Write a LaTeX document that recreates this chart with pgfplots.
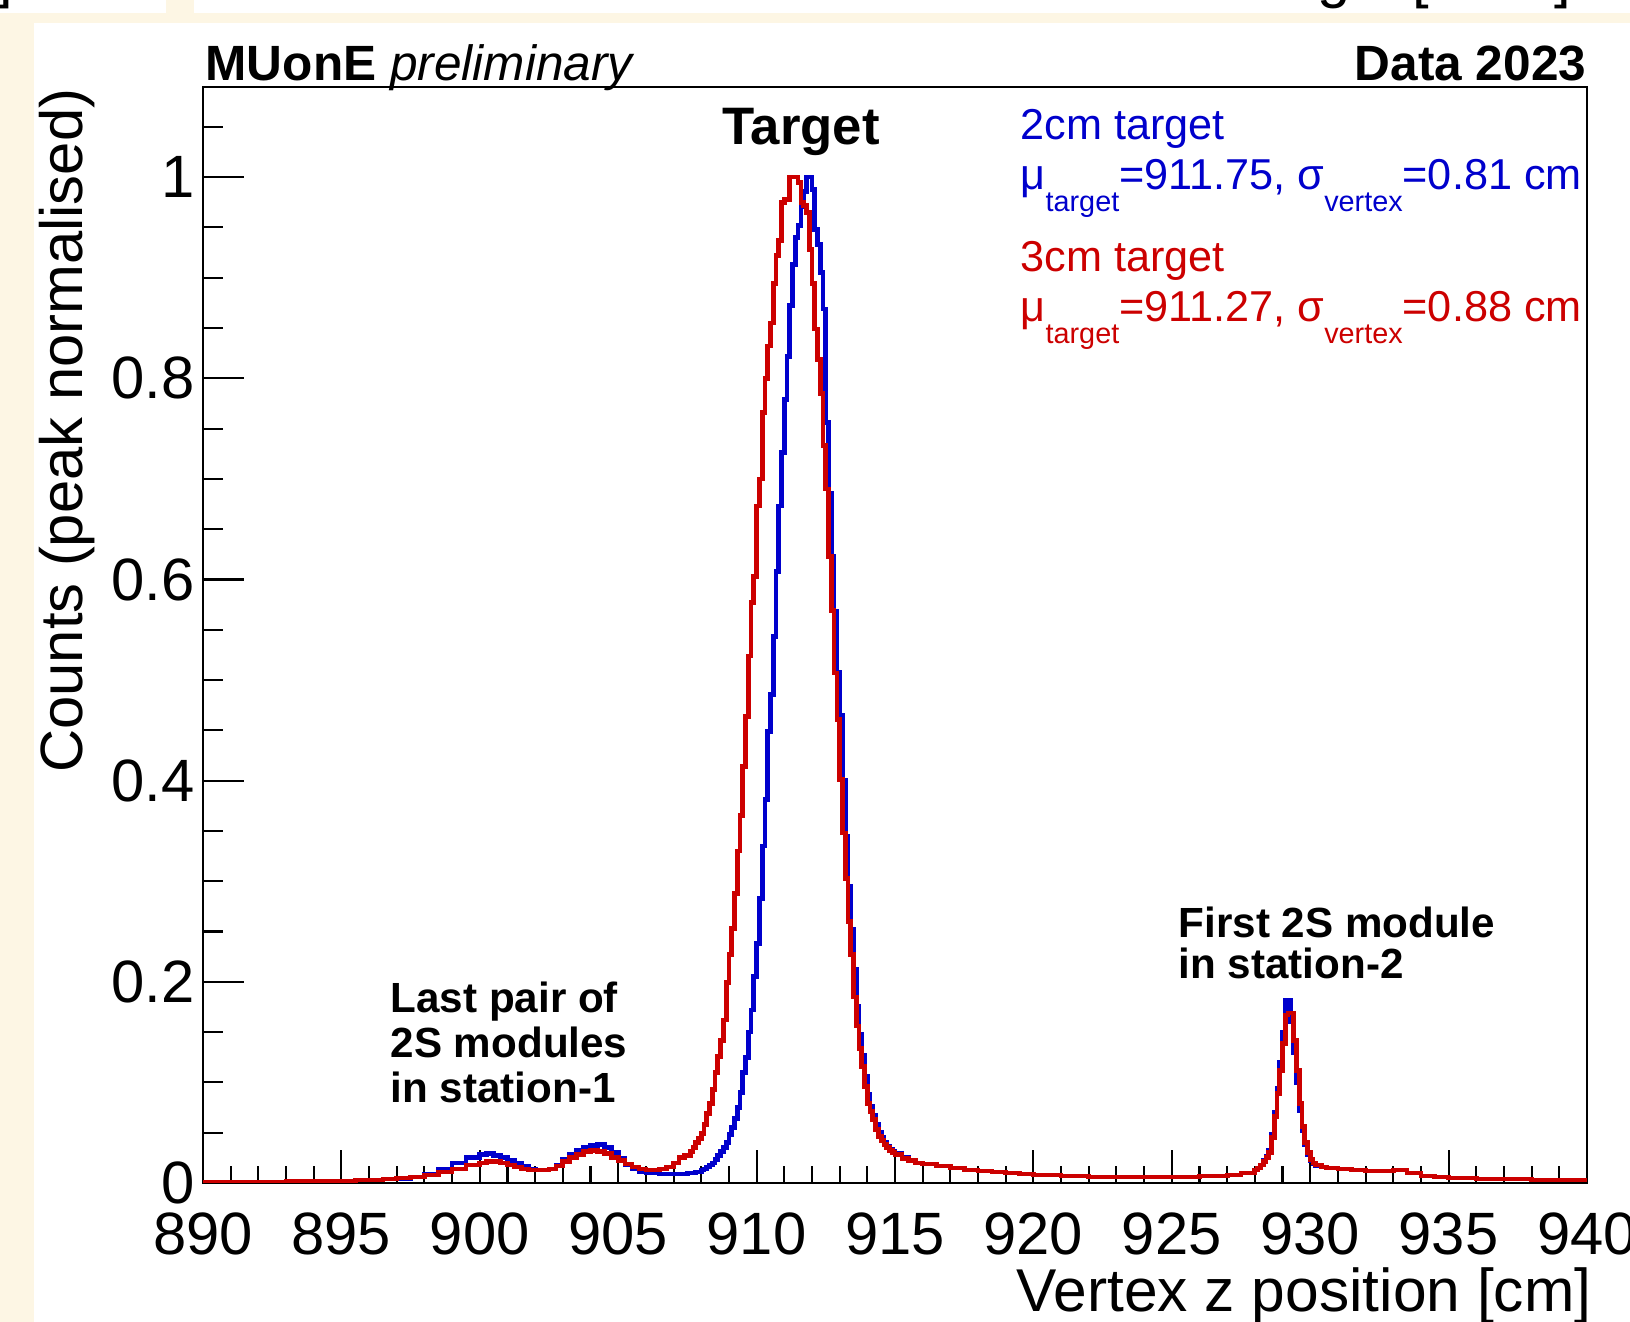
\documentclass[border=0pt]{standalone}
\usepackage{fontspec}
\setmainfont{Liberation Sans}
\usepackage{pgfplots}
\pgfplotsset{compat=1.18}
\usepackage{pgfplotstable}
\definecolor{rootblue}{RGB}{0,0,204}
\definecolor{rootred}{RGB}{204,0,0}
\definecolor{cream}{RGB}{253,246,228}
\newcommand\fs[1]{\fontsize{#1}{#1}\selectfont}

\pgfplotstableread{
x y
890.0 0.001
892.0 0.001
893.0 0.0015
894.0 0.002
895.0 0.002
895.5 0.003
896.0 0.003
896.5 0.004
897.0 0.004
897.5 0.006
898.0 0.009
898.5 0.014
899.0 0.020
899.5 0.025
900.0 0.028
900.25 0.029
900.5 0.027
900.75 0.025
901.0 0.022
901.25 0.020
901.5 0.017
901.75 0.014
902.0 0.013
902.25 0.013
902.5 0.014
902.75 0.018
903.0 0.023
903.25 0.028
903.5 0.032
903.75 0.035
904.0 0.037
904.25 0.038
904.5 0.035
904.75 0.030
905.0 0.024
905.25 0.018
905.5 0.014
905.75 0.011
906.0 0.010
906.5 0.009
907.0 0.009
907.5 0.010
907.8 0.011
908.0 0.013
908.1 0.014
908.2 0.016
908.3 0.018
908.4 0.020
908.5 0.023
908.6 0.027
908.7 0.031
908.8 0.035
908.9 0.040
909.0 0.048
909.1 0.055
909.2 0.064
909.3 0.075
909.4 0.090
909.5 0.110
909.6 0.125
909.7 0.150
909.8 0.172
909.9 0.205
910.0 0.238
910.1 0.283
910.2 0.335
910.3 0.381
910.4 0.449
910.5 0.486
910.6 0.543
910.7 0.608
910.8 0.673
910.9 0.726
911.0 0.779
911.1 0.822
911.2 0.872
911.3 0.913
911.4 0.940
911.5 0.952
911.6 0.971
911.7 0.986
911.8 1.000
911.9 1.000
912.0 0.988
912.1 0.948
912.2 0.933
912.3 0.905
912.4 0.869
912.5 0.756
912.6 0.686
912.7 0.623
912.8 0.568
912.9 0.508
913.0 0.465
913.1 0.400
913.2 0.345
913.3 0.295
913.4 0.252
913.5 0.212
913.6 0.176
913.7 0.148
913.8 0.127
913.9 0.106
914.0 0.088
914.1 0.076
914.2 0.067
914.3 0.058
914.4 0.050
914.5 0.045
914.6 0.040
914.7 0.036
914.8 0.033
914.9 0.031
915.0 0.029
915.25 0.025
915.5 0.022
915.75 0.020
916.0 0.019
916.5 0.017
917.0 0.015
917.5 0.013
918.0 0.012
918.5 0.011
919.0 0.010
919.5 0.009
920.0 0.008
921.0 0.007
922.0 0.006
923.0 0.006
924.0 0.006
925.0 0.006
926.0 0.007
926.5 0.007
927.0 0.008
927.5 0.010
928.0 0.013
928.1 0.015
928.2 0.018
928.3 0.022
928.4 0.026
928.5 0.032
928.6 0.048
928.7 0.070
928.8 0.094
928.9 0.120
929.0 0.150
929.1 0.182
929.2 0.182
929.3 0.160
929.4 0.130
929.5 0.100
929.6 0.072
929.7 0.052
929.8 0.038
929.9 0.028
930.0 0.022
930.1 0.019
930.2 0.017
930.4 0.016
930.6 0.015
931.0 0.014
931.5 0.013
932.0 0.012
932.5 0.012
933.0 0.013
933.5 0.010
934.0 0.007
934.5 0.006
935.0 0.005
936.0 0.004
937.0 0.004
938.0 0.003
939.0 0.003
940.0 0.003
}\bluedata

\pgfplotstableread{
x y
890.0 0.001
892.0 0.001
893.0 0.0015
894.0 0.002
895.0 0.002
895.5 0.003
896.0 0.003
896.5 0.004
897.0 0.005
897.5 0.006
898.0 0.008
898.5 0.011
899.0 0.014
899.5 0.018
900.0 0.020
900.25 0.021
900.5 0.021
900.75 0.020
901.0 0.018
901.25 0.016
901.5 0.014
901.75 0.013
902.0 0.013
902.25 0.013
902.5 0.014
902.75 0.017
903.0 0.021
903.25 0.025
903.5 0.028
903.75 0.031
904.0 0.032
904.25 0.031
904.5 0.029
904.75 0.025
905.0 0.022
905.25 0.019
905.5 0.016
905.75 0.014
906.0 0.013
906.25 0.013
906.5 0.014
906.75 0.016
907.0 0.020
907.2 0.025
907.4 0.027
907.6 0.031
907.7 0.035
907.8 0.040
907.9 0.044
908.0 0.049
908.1 0.058
908.2 0.069
908.3 0.079
908.4 0.093
908.5 0.110
908.6 0.126
908.7 0.142
908.8 0.162
908.9 0.199
909.0 0.227
909.1 0.253
909.2 0.288
909.3 0.330
909.4 0.365
909.5 0.414
909.6 0.464
909.7 0.524
909.8 0.577
909.9 0.603
910.0 0.673
910.1 0.700
910.2 0.766
910.3 0.800
910.4 0.832
910.5 0.855
910.6 0.894
910.7 0.922
910.8 0.937
910.9 0.975
911.0 0.978
911.1 0.978
911.2 1.000
911.3 1.000
911.4 1.000
911.5 0.995
911.6 0.975
911.7 0.972
911.8 0.965
911.9 0.928
912.0 0.894
912.1 0.849
912.2 0.819
912.3 0.785
912.4 0.733
912.5 0.690
912.6 0.623
912.7 0.569
912.8 0.507
912.9 0.461
913.0 0.401
913.1 0.348
913.2 0.303
913.3 0.260
913.4 0.227
913.5 0.185
913.6 0.156
913.7 0.134
913.8 0.116
913.9 0.096
914.0 0.079
914.1 0.071
914.2 0.063
914.3 0.053
914.4 0.046
914.5 0.042
914.6 0.038
914.7 0.035
914.8 0.032
914.9 0.030
915.0 0.028
915.25 0.024
915.5 0.022
915.75 0.020
916.0 0.019
916.5 0.017
917.0 0.015
917.5 0.013
918.0 0.012
918.5 0.011
919.0 0.010
919.5 0.009
920.0 0.008
921.0 0.007
922.0 0.006
923.0 0.006
924.0 0.006
925.0 0.006
926.0 0.007
926.5 0.007
927.0 0.008
927.5 0.010
928.0 0.013
928.1 0.015
928.2 0.018
928.3 0.021
928.4 0.025
928.5 0.030
928.6 0.045
928.7 0.066
928.8 0.089
928.9 0.112
929.0 0.139
929.1 0.167
929.2 0.169
929.3 0.169
929.4 0.142
929.5 0.112
929.6 0.079
929.7 0.056
929.8 0.040
929.9 0.030
930.0 0.023
930.1 0.020
930.2 0.018
930.4 0.016
930.6 0.015
931.0 0.014
931.5 0.013
932.0 0.012
932.5 0.012
933.0 0.013
933.5 0.010
934.0 0.007
934.5 0.006
935.0 0.005
936.0 0.004
937.0 0.004
938.0 0.003
939.0 0.003
940.0 0.003
}\reddata

\begin{document}
\begin{tikzpicture}[x=1cm,y=1cm]
\useasboundingbox (0,0) rectangle (16.30,13.22);
\fill[cream] (0,0) rectangle (16.30,13.22);
\fill[white] (0.34,0) rectangle (16.30,12.993);
\fill[white] (0,13.093) rectangle (1.66,13.22);
\fill[white] (1.94,13.093) rectangle (16.30,13.22);
% cut-off text fragments of the slide above
\node[anchor=base east, inner sep=0pt] at (0.14,13.255) {\fs{17}]};
\node[anchor=base west, inner sep=0pt] at (13.17,13.255) {\fs{17}g};
\node[anchor=base west, inner sep=0pt] at (14.12,13.255) {\fs{17}[};
\node[anchor=base east, inner sep=0pt] at (15.72,13.255) {\fs{17}]};

\begin{axis}[
  at={(2.03cm,1.39cm)}, anchor=south west,
  scale only axis, width=13.84cm, height=10.96cm,
  xmin=890, xmax=940, ymin=0, ymax=1.0896,
  xtick={890,895,...,940},
  minor xtick={891,...,939},
  ytick={0,0.2,0.4,0.6,0.8,1},
  minor ytick={0.05,0.1,...,1.06},
  tick align=inside,
  xtick pos=bottom, ytick pos=left,
  axis line style={line width=0.6pt},
  every tick/.style={black, line width=0.6pt},
  xtick style={/pgfplots/major tick length=3.3mm,/pgfplots/minor tick length=1.7mm},
  ytick style={/pgfplots/major tick length=4.1mm,/pgfplots/minor tick length=2.0mm},
  /pgf/number format/assume math mode=true,
  tick label style={font=\fs{17}},
  xticklabel style={anchor=base, inner sep=0pt, yshift=-7.2mm},
  yticklabel style={anchor=east, inner sep=0pt, xshift=-0.8mm},
  scaled ticks=false,
]
\addplot[const plot, rootblue, line width=1.35pt] table[x=x,y=y] {\bluedata};
\addplot[const plot, rootred, line width=1.35pt] table[x=x,y=y] {\reddata};
\end{axis}

% titles
\node[anchor=base west, inner sep=0pt] at (2.05,12.41) {\fs{14.1}\textbf{MUonE} \textit{preliminary}};
\node[anchor=base east, inner sep=0pt] at (15.87,12.41) {\fs{14.1}\textbf{Data 2023}};
\node[anchor=base, inner sep=0pt] at (8.01,11.77) {\fs{15}\textbf{Target}};
% legend text
\node[anchor=base west, inner sep=0pt, text=rootblue] at (10.20,11.82) {\fs{12.3}2cm target};
\node[anchor=base west, inner sep=0pt, text=rootblue] at (10.20,11.32) {\fs{12.3}μ\raisebox{-2.2mm}{\fs{8.2}target}=911.75, σ\raisebox{-2.2mm}{\fs{8.2}vertex}=0.81 cm};
\node[anchor=base west, inner sep=0pt, text=rootred] at (10.20,10.50) {\fs{12.3}3cm target};
\node[anchor=base west, inner sep=0pt, text=rootred] at (10.20,10.00) {\fs{12.3}μ\raisebox{-2.2mm}{\fs{8.2}target}=911.27, σ\raisebox{-2.2mm}{\fs{8.2}vertex}=0.88 cm};
% annotations
\node[anchor=base west, inner sep=0pt] at (3.90,3.09) {\fs{12}\textbf{Last pair of}};
\node[anchor=base west, inner sep=0pt] at (3.90,2.64) {\fs{12}\textbf{2S modules}};
\node[anchor=base west, inner sep=0pt] at (3.90,2.19) {\fs{12}\textbf{in station-1}};
\node[anchor=base west, inner sep=0pt] at (11.78,3.84) {\fs{12}\textbf{First 2S module}};
\node[anchor=base west, inner sep=0pt] at (11.78,3.43) {\fs{12}\textbf{in station-2}};
% axis titles
\node[anchor=base east, inner sep=0pt, rotate=90] at (0.825,12.34) {\fs{17}Counts (peak normalised)};
\node[anchor=base east, inner sep=0pt] at (15.92,0.10) {\fs{17.2}Vertex z position [cm]};
\end{tikzpicture}
\end{document}
